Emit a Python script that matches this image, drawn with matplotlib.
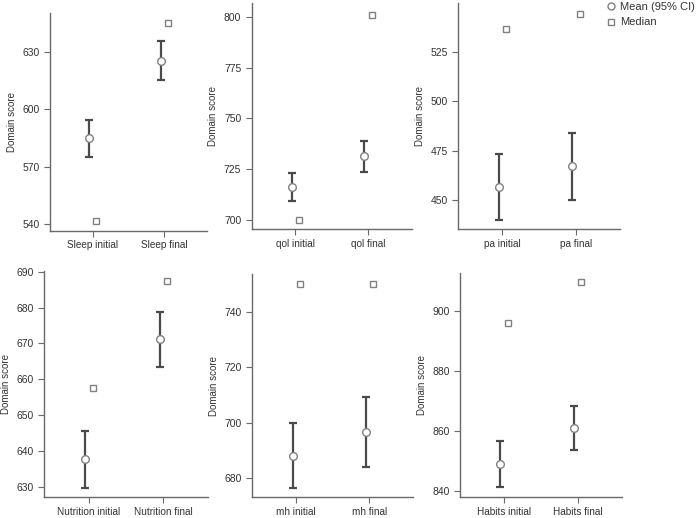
import matplotlib
matplotlib.use("Agg")
import matplotlib.pyplot as plt
from matplotlib.lines import Line2D

plt.rcParams['font.family'] = ['Liberation Sans', 'DejaVu Sans']

# domain names / x labels
domains = ["Sleep", "qol", "pa", "Nutrition", "mh", "Habits"]

# mean, lower CI, upper CI, median for initial and final
mean_initial = [584.9, 716.0, 456.6, 637.8, 688.0, 849.2]
mean_final = [625.5, 731.2, 467.0, 671.2, 696.7, 861.1]
lo_initial = [575.0, 709.1, 439.9, 629.8, 676.3, 841.3]
hi_initial = [594.6, 723.1, 473.1, 645.7, 700.0, 856.9]
lo_final = [615.3, 723.6, 450.0, 663.5, 684.0, 853.8]
hi_final = [636.0, 738.6, 483.9, 678.9, 709.3, 868.3]
median_initial = [541.7, 700.0, 536.4, 657.5, 750.2, 896.1]
median_final = [645.5, 801.0, 543.8, 687.4, 750.2, 909.7]

yticks = [[540, 570, 600, 630],
          [700, 725, 750, 775, 800],
          [450, 475, 500, 525],
          [630, 640, 650, 660, 670, 680, 690],
          [680, 700, 720, 740],
          [840, 860, 880, 900]]
ylims = [(536.5, 650.7), (695.2, 807), (435.2, 549.6),
         (627.1, 690.3), (672.9, 753.9), (838, 912.8)]

# axes boxes in pixels: left, right, top, bottom
W, H = 697, 518
boxes = [(50, 207, 12.7, 230.7), (251.7, 411.7, 3, 229.3), (458.3, 620, 3, 229.3),
         (44.3, 208, 270.7, 497.3), (252.3, 413.3, 274, 497.3), (460, 621.7, 272.7, 497.3)]

fig = plt.figure(figsize=(W / 100, H / 100), dpi=100)
ecol = '#4a4a4a'
mcol = '#808080'
spc = '#6a6a6a'

for i, d in enumerate(domains):
    l, r, t, b = boxes[i]
    ax = fig.add_axes([l / W, 1 - b / H, (r - l) / W, (b - t) / H])
    means = [mean_initial[i], mean_final[i]]
    err_lo = [mean_initial[i] - lo_initial[i], mean_final[i] - lo_final[i]]
    err_hi = [hi_initial[i] - mean_initial[i], hi_final[i] - mean_final[i]]
    xs = [0 - 0.05, 1 - 0.05]
    ax.errorbar(xs, means, yerr=[err_lo, err_hi], fmt='none', ecolor=ecol,
                elinewidth=1.6, capsize=3.2, capthick=1.6, zorder=2)
    ax.plot(xs, means, 'o', ms=5.5, mfc='white', mec=mcol, mew=1.0, zorder=3)
    ax.plot([0.05, 1.05], [median_initial[i], median_final[i]], 's', ms=5,
            mfc='white', mec=mcol, mew=1.0, zorder=3)
    ax.set_xlim(-0.6, 1.6)
    ax.set_ylim(*ylims[i])
    ax.set_xticks([0, 1])
    ax.set_xticklabels([d + " initial", d + " final"])
    ax.set_yticks(yticks[i])
    ax.set_ylabel("Domain score", fontsize=7, color='#333333', labelpad=4)
    for s in ['top', 'right']:
        ax.spines[s].set_visible(False)
    for s in ['left', 'bottom']:
        ax.spines[s].set_color(spc)
        ax.spines[s].set_linewidth(1.0)
    ax.tick_params(axis='both', labelsize=7.5, colors=spc, labelcolor='#333333',
                   length=4, width=0.8)
    ax.tick_params(axis='x', labelsize=7.2, pad=3)
    ax.set_facecolor('none')

handles = [Line2D([], [], ls='none', marker='o', ms=5, mfc='white', mec=mcol, mew=1.0),
           Line2D([], [], ls='none', marker='s', ms=4.5, mfc='white', mec=mcol, mew=1.0)]
fig.legend(handles, ["Mean (95% CI)", "Median"], loc='upper left',
           bbox_to_anchor=(602 / W, 1.005), frameon=False, fontsize=8,
           handlelength=0.8, handletextpad=0.4, labelspacing=0.5,
           borderaxespad=0, labelcolor='#333333')

fig.savefig("out.png", dpi=100)
